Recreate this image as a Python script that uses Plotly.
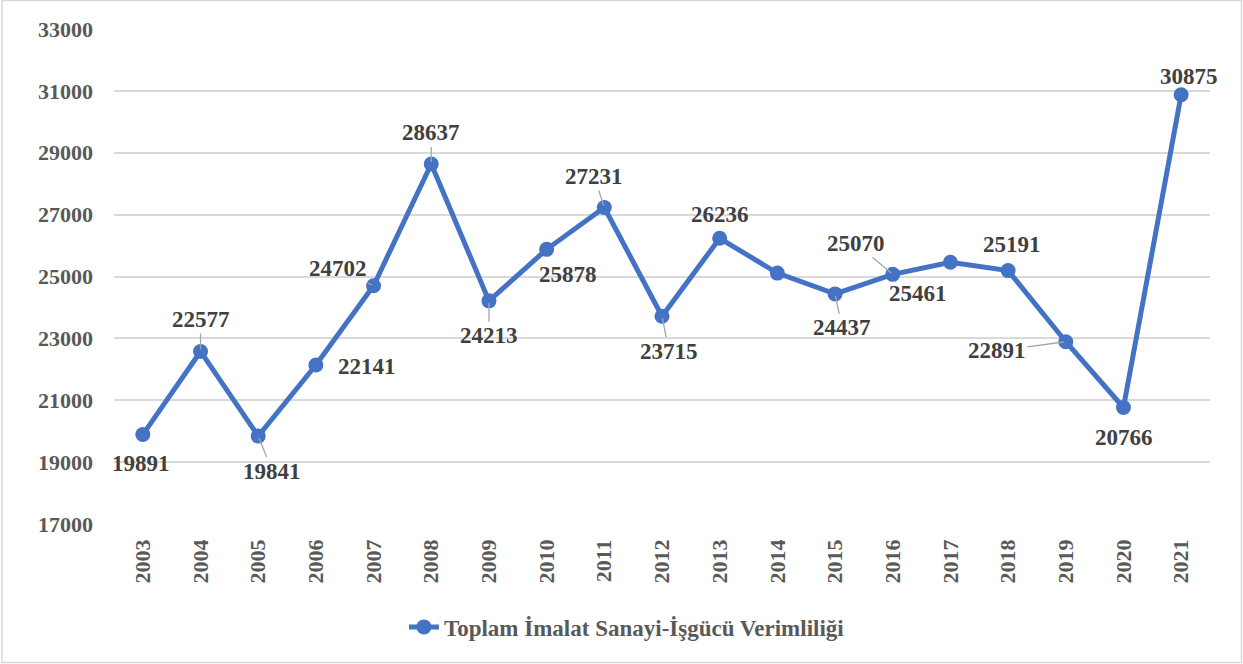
import plotly.graph_objects as go

# Productivity series, 2003-2021
years = [str(y) for y in range(2003, 2022)]
productivity = [19891, 22577, 19841, 22141, 24702, 28637, 24213, 25878, 27231,
                23715, 26236, 25110, 24437, 25070, 25461, 25191, 22891, 20766, 30875]
# Value labels drawn next to the points (None = no label)
label_text = ["19891", "22577", "19841", "22141", "24702", "28637", "24213", "25878", "27231",
              "23715", "26236", None, "24437", "25070", "25461", "25191", "22891", "20766", "30875"]
series_name = "Toplam İmalat Sanayi-İşgücü Verimliliği"
y_ticks = list(range(17000, 33001, 2000))

# Label placement: (dx, dy, leader line) in pixels relative to the marker
label_offsets = [(-2, 29, False), (0, -32, True), (14, 35, True), (51, 2, False),
                 (-36, -17, True), (0, -31, True), (0, 35, True), (21, 25, False),
                 (-10, -31, True), (7, 35, True), (0, -24, False), (0, 0, False),
                 (7, 34, True), (-37, -31, True), (-32, 31, False), (4, -26, False),
                 (-69, 9, True), (1, 30, False), (8, -18, False)]

FONT = "Liberation Serif"
BLUE = "#4472C4"

fig = go.Figure()
fig.add_trace(go.Scatter(
    x=years, y=productivity, mode="lines+markers", name=series_name,
    line=dict(color=BLUE, width=5),
    marker=dict(color=BLUE, size=15),
    showlegend=True,
))

annotations = []
for i, (val, txt, (dx, dy, leader)) in enumerate(zip(productivity, label_text, label_offsets)):
    if txt is None:
        continue
    # category axis: position by category index
    common = dict(x=i, y=val, xref="x", yref="y", text=txt,
                  font=dict(family=FONT, size=23, color="#404040", weight="bold"))
    if leader:
        annotations.append(dict(**common, showarrow=True, ax=dx, ay=dy,
                                arrowhead=0, arrowwidth=1.3, arrowcolor="#A6A6A6",
                                standoff=2))
    else:
        annotations.append(dict(**common, showarrow=False, xshift=dx, yshift=-dy))

fig.update_layout(
    width=1243, height=664,
    margin=dict(l=114, r=33, t=29, b=140),
    paper_bgcolor="white", plot_bgcolor="white",
    font=dict(family=FONT, color="#595959"),
    annotations=annotations,
    legend=dict(orientation="h", x=0.468, y=-0.208, xanchor="center", yanchor="middle",
                font=dict(family=FONT, size=23, color="#595959", weight="bold"),
                bgcolor="rgba(0,0,0,0)"),
    xaxis=dict(type="category", range=[-0.5, len(years) - 0.5], tickangle=-90,
               showgrid=False, zeroline=False, showline=False, ticks="",
               ticklabelstandoff=10,
               tickfont=dict(family=FONT, size=22, color="#595959", weight="bold")),
    yaxis=dict(range=[17000, 33000], tickvals=y_ticks, ticktext=[str(v) for v in y_ticks],
               showgrid=True, gridcolor="#D9D9D9", gridwidth=2, zeroline=False,
               showline=False, ticks="", ticklabelstandoff=20,
               tickfont=dict(family=FONT, size=22, color="#595959", weight="bold")),
    shapes=[dict(type="rect", xref="paper", yref="paper",
                 x0=-0.1022, x1=1.0287, y0=-0.2798, y1=1.0576,
                 line=dict(color="#D9D9D9", width=1.5), fillcolor="rgba(0,0,0,0)",
                 layer="below")],
)

fig.write_html("out.html")
